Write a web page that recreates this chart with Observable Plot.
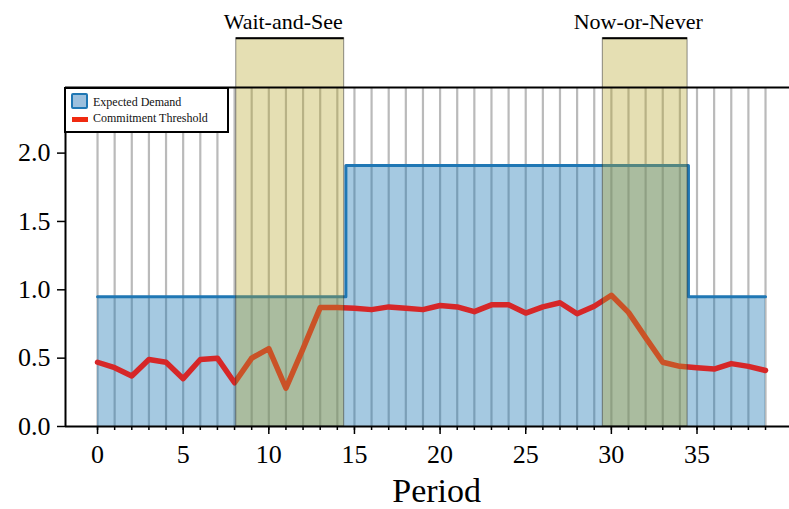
<!DOCTYPE html>
<html><head><meta charset="utf-8">
<script src="https://cdn.jsdelivr.net/npm/d3@7"></script>
<script src="https://cdn.jsdelivr.net/npm/@observablehq/plot@0.6"></script>
<style>
body{margin:0;background:#fff;}
#wrap{position:relative;width:789px;height:509px;overflow:hidden;}
#legend{position:absolute;left:64px;top:87px;width:165px;height:46px;box-sizing:border-box;border:2px solid #000;background:#fff;font-family:"Liberation Serif",serif;font-size:12px;color:#111;}
#legend .sw1{position:absolute;left:5px;top:4px;width:17px;height:16px;box-sizing:border-box;border:2px solid #1f77b4;background:#9cc0de;border-radius:2px;}
#legend .sw2{position:absolute;left:6px;top:28px;width:16px;height:5px;background:#f02a10;}
#legend .t{position:absolute;left:27px;line-height:12px;white-space:nowrap;}
</style></head>
<body>
<div id="wrap"></div>
<script>
// Data
const periods = [0,1,2,3,4,5,6,7,8,9,10,11,12,13,14,15,16,17,18,19,20,21,22,23,24,25,26,27,28,29,30,31,32,33,34,35,36,37,38,39];
const threshold = [0.47,0.43,0.37,0.49,0.47,0.35,0.49,0.50,0.32,0.50,0.57,0.28,0.57,0.87,0.87,0.865,0.855,0.875,0.865,0.855,0.885,0.875,0.84,0.89,0.89,0.83,0.875,0.905,0.825,0.88,0.96,0.835,0.65,0.47,0.44,0.43,0.42,0.46,0.44,0.41];
const demandX = [0, 14.5, 34.5, 39];
const demandY = [0.95, 1.91, 0.95, 0.95];
const phaseNames = ["Wait-and-See", "Now-or-Never"];
const phaseStart = [8.1, 29.5];
const phaseEnd = [14.4, 34.45];
const phaseTop = 2.84;
const yTicks = [0, 0.5, 1.0, 1.5, 2.0];
const xTicks = [0, 5, 10, 15, 20, 25, 30, 35];
const legendLabels = ["Expected Demand", "Commitment Threshold"];
const xLabel = "Period";

const thr = periods.map((p, i) => ({x: p, y: threshold[i]}));
const demand = demandX.map((x, i) => ({x, y: demandY[i]}));
const phases = phaseNames.map((n, i) => ({name: n, x1: phaseStart[i], x2: phaseEnd[i], top: phaseTop}));

const yMax = 2.48, xMin = -1.87, xMax = 40.4;

const chart = Plot.plot({
  width: 789, height: 509,
  marginLeft: 65, marginRight: 0, marginTop: 87, marginBottom: 83,
  x: {domain: [xMin, xMax]},
  y: {domain: [0, yMax]},
  style: {fontFamily: "'Liberation Serif', 'Times New Roman', serif", background: "white", color: "black"},
  marks: [
    Plot.ruleX(periods, {x: d => d, y1: 0, y2: yMax, stroke: "#bababa", strokeWidth: 2.2}),
    Plot.areaY(demand, {x: "x", y: "y", curve: "step-after", fill: "#1f77b4", fillOpacity: 0.4}),
    Plot.lineY(demand, {x: "x", y: "y", curve: "step-after", stroke: "#1f77b4", strokeWidth: 3}),
    Plot.lineY(thr, {x: "x", y: "y", stroke: "#d62728", strokeWidth: 5.5}),
    Plot.dot(thr, {x: "x", y: "y", symbol: "plus", r: 5.5, fill: "#d62728", stroke: "none"}),
    Plot.rect(phases, {x1: "x1", x2: "x2", y1: 0, y2: "top", fill: "#b5a426", fillOpacity: 0.35, stroke: "#333", strokeOpacity: 0.55, strokeWidth: 1}),
    Plot.ruleY(phases, {y: "top", x1: "x1", x2: "x2", stroke: "black", strokeWidth: 2}),
    Plot.text(phases, {x: d => (d.x1 + d.x2) / 2, y: "top", text: "name", dx: -7, dy: -9, lineAnchor: "bottom", fontSize: 22, fill: "black"}),
    Plot.ruleY([0], {stroke: "black", strokeWidth: 2}),
    Plot.ruleY([yMax], {stroke: "black", strokeWidth: 2}),
    Plot.ruleX([xMin], {stroke: "black", strokeWidth: 2}),
    Plot.axisY({ticks: yTicks, tickFormat: d3.format(".1f"), tickSize: 8, tickPadding: 7, fontSize: 26, label: null, strokeWidth: 1.5}),
    Plot.axisX({ticks: xTicks, tickFormat: d => String(d), tickSize: 8, tickPadding: 10, fontSize: 26, label: null, strokeWidth: 1.5}),
    Plot.axisX({ticks: periods, tickFormat: () => "", tickSize: 4, label: null, strokeWidth: 1.5}),
    Plot.text([xLabel], {x: 19.8, frameAnchor: "bottom", dy: 75, lineAnchor: "bottom", fontSize: 34, fill: "black"})
  ]
});

const wrap = document.getElementById("wrap");
wrap.appendChild(chart);
const lg = document.createElement("div");
lg.id = "legend";
lg.innerHTML = `<div class="sw1"></div><div class="t" style="top:7px">${legendLabels[0]}</div><div class="sw2"></div><div class="t" style="top:22.5px">${legendLabels[1]}</div>`;
wrap.appendChild(lg);
</script>
</body></html>
